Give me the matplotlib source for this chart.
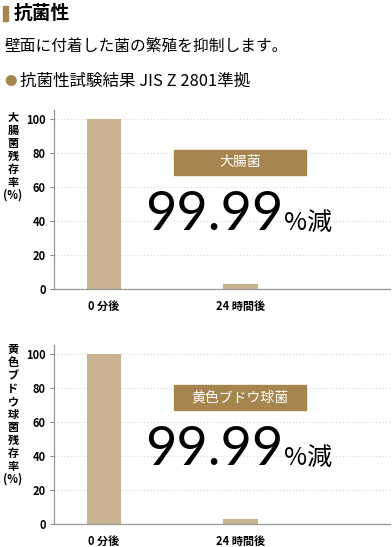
import matplotlib.pyplot as plt
from matplotlib.patches import Rectangle

plt.rcParams['font.family'] = ['Noto Sans CJK JP', 'DejaVu Sans']

# data
times = ['0 分後', '24 時間後']
ecoli = [100, 3]
staph = [100, 3]
bacteria = ['大腸菌', '黄色ブドウ球菌']
ylabels = ['大\n腸\n菌\n残\n存\n率', '黄\n色\nブ\nド\nウ\n球\n菌\n残\n存\n率']
reduction = '99.99'
yticks = [0, 20, 40, 60, 80, 100]

BAR = '#c8b291'
BADGE = '#a6854f'
W, H = 392, 547

fig = plt.figure(figsize=(W / 100, H / 100), dpi=100)


def fx(px):
    return px / W


def fy(py):
    return 1 - py / H


# header
fig.patches.append(Rectangle((fx(3), fy(21)), fx(5), 15 / H, color=BADGE,
                             transform=fig.transFigure, figure=fig))
fig.text(fx(14), fy(13), '抗菌性', fontsize=13.5, fontweight='bold', va='center')
fig.text(fx(5), fy(46), '壁面に付着した菌の繁殖を抑制します。', fontsize=11.3, va='center')
fig.text(fx(4), fy(81), '●', fontsize=9, color=BADGE, va='center')
fig.text(fx(20), fy(81), '抗菌性試験結果 JIS Z 2801準拠', fontsize=11.9, va='center')


def panel(bottom_px, values, name, ylab, ylab_top):
    ax = fig.add_axes([fx(54), fy(bottom_px), fx(336), 179 / H])
    ax.bar([0, 1], values, width=0.253, color=BAR, zorder=2)
    ax.set_xlim(-0.366, 2.095)
    ax.set_ylim(0, 105.3)
    ax.set_yticks(yticks)
    ax.set_yticklabels([str(v) for v in yticks], fontweight='bold', fontsize=8)
    ax.set_xticks([0, 1])
    ax.set_xticklabels(times, fontweight='bold', fontsize=8)
    ax.tick_params(axis='x', length=0, pad=8)
    ax.tick_params(axis='y', length=3, width=0.8, color='#888888', pad=3)
    for s in ['top', 'right']:
        ax.spines[s].set_visible(False)
    for s in ['left', 'bottom']:
        ax.spines[s].set_color('#999999')
        ax.spines[s].set_linewidth(0.9)
    ax.yaxis.grid(True, color='#dddddd', linestyle=':', linewidth=0.9, zorder=0)
    ax.set_axisbelow(True)

    ax.add_patch(Rectangle((0.513, 67.3), 0.967, 14.7, color=BADGE, zorder=3))
    ax.text(0.997, 74.6, name, color='white', fontsize=10, ha='center',
            va='center', zorder=4)
    ax.text(1.311, 34.5, reduction, fontsize=39, ha='right', va='baseline',
            family=['Lato', 'DejaVu Sans'], fontweight='normal', zorder=4)
    ax.text(1.322, 34.5, '%減', fontsize=18, ha='left', va='baseline', zorder=4)

    fig.text(fx(13), fy(ylab_top), ylab + '\n(%)', fontsize=8, fontweight='bold',
             ha='center', va='top', linespacing=1.0, multialignment='center')
    return ax


panel(289, ecoli, bacteria[0], ylabels[0], 111)
panel(524, staph, bacteria[1], ylabels[1], 343)

fig.savefig('out.png', dpi=100)
